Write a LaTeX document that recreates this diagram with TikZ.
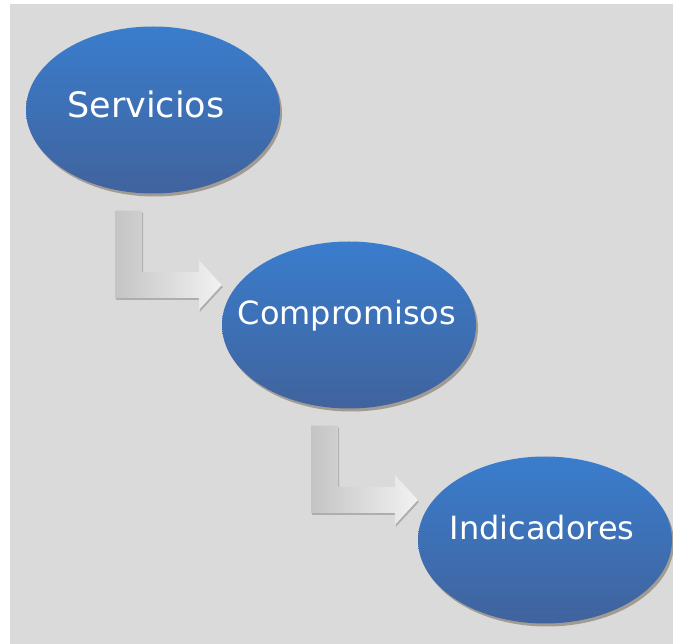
\documentclass[tikz,border=0pt]{standalone}
\usepackage{fontspec}
\setsansfont{DejaVu Sans}
\usepackage{tikz}
\usetikzlibrary{calc,shapes,shadows}
\definecolor{bggray}{RGB}{218,218,218}
\definecolor{bluetop}{RGB}{58,125,205}
\definecolor{bluebot}{RGB}{64,99,157}
\definecolor{arrowdark}{RGB}{196,196,196}
\definecolor{arrowlight}{RGB}{242,242,242}
\tikzstyle{bluebox}=[ellipse,top color=bluetop,bottom color=bluebot,
                     minimum width=254pt,minimum height=167pt,inner sep=0pt,
                     drop shadow={shadow xshift=2pt,shadow yshift=-3pt,
                                  opacity=0.35,fill=black!70!brown}]
\tikzstyle{bluetext}=[anchor=base,inner sep=0pt,text=white,
                      font=\sffamily\fontsize{32}{38}\selectfont]
\tikzstyle{bentbox}=[left color=arrowdark,right color=arrowlight,
                     drop shadow={shadow xshift=1pt,shadow yshift=-2pt,
                                  opacity=0.2,fill=black}]
\newcommand\hstep{196}
\newcommand\vstep{-215}
% bent block arrow from the foot of #1 to the left side of #2
\newcommand\bentarrow[2]{
    \coordinate (#1top) at ($(#1.south)+(-38,-17)$);
    \coordinate (#2tip) at ($(#2.west)+(0,40)$);
    \path [bentbox] let \p1=(#1top), \p2=(#2tip) in
        (\x1,\y1) -- (\x1+27pt,\y1) -- (\x1+27pt,\y2+13pt)
        -- (\x2-23pt,\y2+13pt) -- (\x2-23pt,\y2+25pt) -- (\x2,\y2)
        -- (\x2-23pt,\y2-25pt) -- (\x2-23pt,\y2-13pt) -- (\x1,\y2-13pt) -- cycle;
}

\begin{document}
\begin{tikzpicture}[x=1pt,y=1pt]
    \useasboundingbox (0,0) rectangle (673,-644);
    \fill [bggray] (10,-4) rectangle (673,-644);

    \node [bluebox] (servicios) at ($(153,-110)$) {};
    \node [bluebox] (compromisos) at ($(153+\hstep*1,-110+\vstep*1)$) {};
    \node [bluebox] (indicadores) at ($(153+\hstep*2,-110+\vstep*2)$) {};

    \node [bluetext,font=\sffamily\fontsize{35}{42}\selectfont]
        (servicioslabel) at ($(servicios.center)+(-7,-8)$) {Servicios};
    \node [bluetext] (compromisoslabel) at ($(compromisos.center)+(-2,0)$) {Compromisos};
    \node [bluetext] (indicadoreslabel) at ($(indicadores.center)+(-3,0)$) {Indicadores};

    \bentarrow{servicios}{compromisos}
    \bentarrow{compromisos}{indicadores}
\end{tikzpicture}
\end{document}
